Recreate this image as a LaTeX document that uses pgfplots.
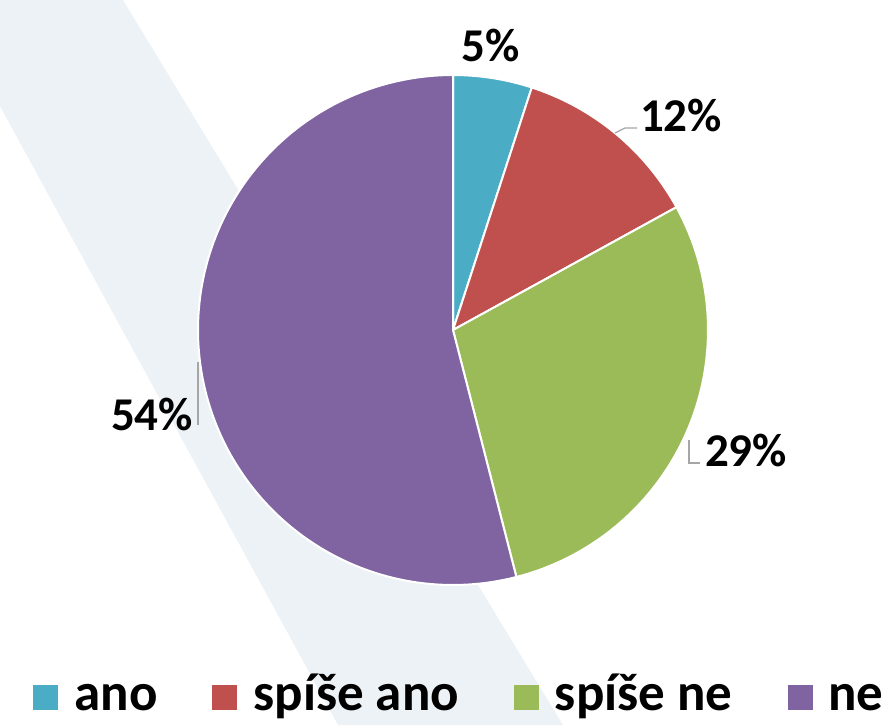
\documentclass[border=0pt]{standalone}
\usepackage{pgfplots}
\pgfplotsset{compat=1.18}
\usepackage{fontspec}
\setmainfont{Carlito}
\definecolor{cAno}{HTML}{4BACC6}
\definecolor{cSpAno}{HTML}{C0504D}
\definecolor{cSpNe}{HTML}{9BBB59}
\definecolor{cNe}{HTML}{8064A2}
\definecolor{band}{RGB}{236,242,246}
\definecolor{lead}{HTML}{A6A6A6}
% shares (percent): ano 5, spise ano 12, spise ne 29, ne 54
% slice boundaries as angles: 90 - 3.6*cumulative share
\begin{document}
\begin{tikzpicture}
\begin{axis}[name=ax,
  scale only axis, width=445.5pt, height=362.5pt,
  xmin=0, xmax=891, ymin=0, ymax=725,
  axis lines=none,
  legend columns=4,
  legend style={at={(axis cs:33,28)}, anchor=west, draw=none, fill=none,
    font=\fontsize{26.5}{29}\selectfont\bfseries,
    nodes={text height=19pt, text depth=6pt, inner sep=0pt, anchor=base},
    /tikz/every even column/.append style={column sep=27.5pt},
    /tikz/every odd column/.append style={column sep=8pt},
    inner sep=0pt},
  legend image code/.code={\fill[#1,draw=none] (0pt,0pt) rectangle (12.5pt,12.5pt);},
]
\addplot[fill=band, draw=none, forget plot] coordinates {(-58,725) (123,725) (563,0) (338,0)} -- cycle;
\addplot[fill=cAno, draw=white, line width=1pt, domain=72:90, samples=20, variable=\t]
  ({453+255*cos(\t)},{395+255*sin(\t)}) -- (axis cs:453,395) -- cycle;
\addlegendentry{ano}
\addplot[fill=cSpAno, draw=white, line width=1pt, domain=28.8:72, samples=40, variable=\t]
  ({453+255*cos(\t)},{395+255*sin(\t)}) -- (axis cs:453,395) -- cycle;
\addlegendentry{spíše ano}
\addplot[fill=cSpNe, draw=white, line width=1pt, domain=-75.6:28.8, samples=80, variable=\t]
  ({453+255*cos(\t)},{395+255*sin(\t)}) -- (axis cs:453,395) -- cycle;
\addlegendentry{spíše ne}
\addplot[fill=cNe, draw=white, line width=1pt, domain=-270:-75.6, samples=140, variable=\t]
  ({453+255*cos(\t)},{395+255*sin(\t)}) -- (axis cs:453,395) -- cycle;
\addlegendentry{ne}
\draw[lead, line width=0.6pt] (axis cs:615,592) -- (axis cs:625,597) -- (axis cs:637,597);
\draw[lead, line width=0.6pt] (axis cs:689,285) -- (axis cs:689,262) -- (axis cs:700,262);
\draw[lead, line width=0.6pt] (axis cs:198,363) -- (axis cs:198,300);
\begin{scope}[every node/.style={font=\fontsize{23.5}{26}\selectfont\bfseries, anchor=base, inner sep=0pt}]
\node at (axis cs:491,663) {5\%};
\node at (axis cs:681,593) {12\%};
\node at (axis cs:746,259) {29\%};
\node at (axis cs:152,295) {54\%};
\end{scope}
\end{axis}
\pgfresetboundingbox
\path[use as bounding box] (ax.south west) rectangle (ax.north east);
\end{tikzpicture}
\end{document}
